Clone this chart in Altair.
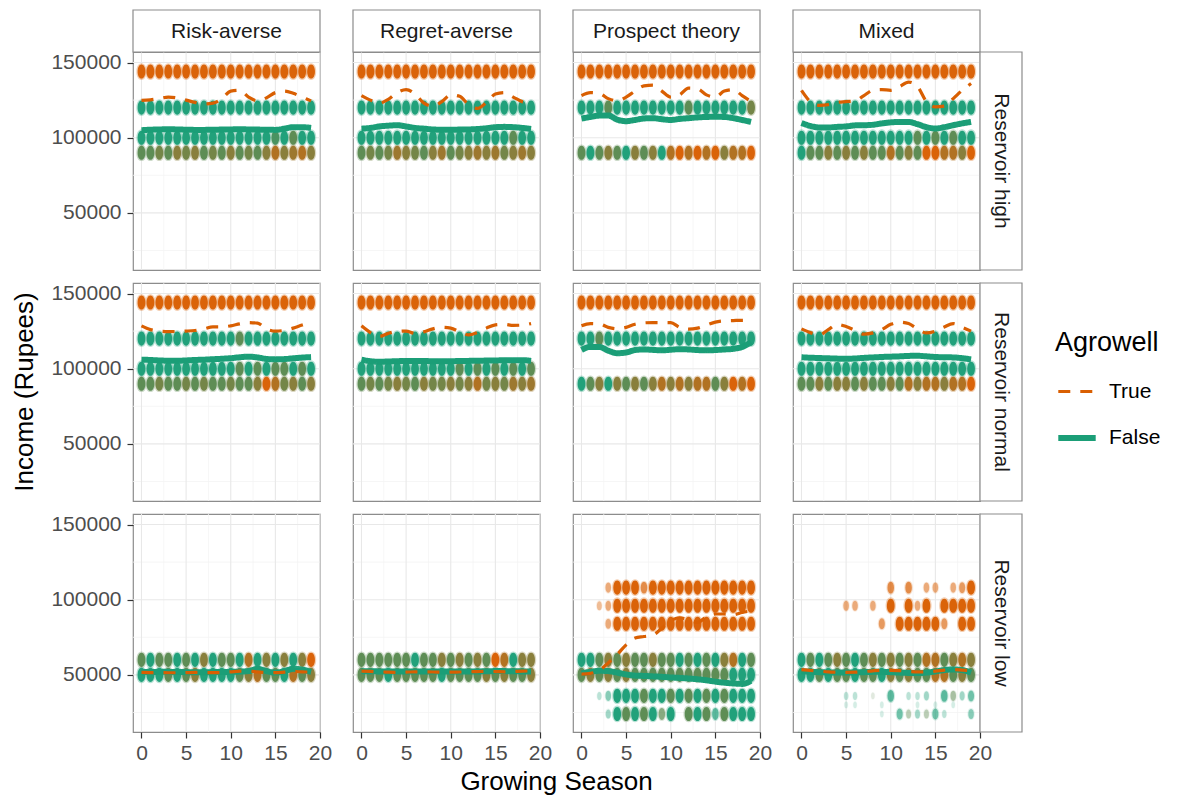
import altair as alt
import pandas as pd

FONT = "Liberation Sans"
ORANGE = "#D95F02"
GREEN = "#1B9E77"

POLICIES = ["Risk-averse", "Regret-averse", "Prospect theory", "Mixed"]
RESERVOIRS = ["Reservoir high", "Reservoir normal", "Reservoir low"]
SEASONS = list(range(20))
AGROWELL = ["True", "False"]
X_TICKS = [0, 5, 10, 15, 20]
X_MINOR = [2.5, 7.5, 12.5, 17.5]
Y_TICKS = [50000, 100000, 150000]
Y_MINOR = [25000, 75000, 125000]

# ---- smoothed mean income lines (season 0..19) ----
TRUE_RA_HIGH = [124800, 125200, 126000, 127000, 126500, 125000, 123500, 122500, 123000, 126000, 131000, 131500, 127000, 124500, 126500, 130000, 131000, 129500, 127000, 124500]
FALSE_RA_HIGH = [105000, 105300, 105500, 105600, 105500, 105300, 105200, 105200, 105300, 105400, 105500, 105600, 105500, 105400, 105300, 105200, 106000, 107000, 107000, 106500]
TRUE_RG_HIGH = [128000, 125000, 123000, 125500, 130000, 132000, 129000, 123000, 121000, 124000, 128500, 127500, 122000, 119500, 123500, 129000, 130000, 127000, 124000, 123000]
FALSE_RG_HIGH = [106000, 106500, 107500, 108000, 108300, 107500, 106500, 106000, 105500, 105300, 105300, 105400, 105500, 105800, 106300, 107000, 107200, 107000, 106500, 105800]
TRUE_PT_HIGH = [128000, 130000, 129500, 126000, 124500, 127000, 131000, 134500, 135000, 131000, 127000, 128500, 133000, 132500, 128500, 127000, 131000, 132000, 128000, 124000]
FALSE_PT_HIGH = [112700, 113800, 114700, 114800, 112000, 111000, 111800, 112800, 113000, 112300, 111800, 112500, 113000, 113500, 113800, 113900, 113800, 113000, 111800, 110500]
TRUE_MX_HIGH = [131500, 124000, 121500, 122000, 123500, 124000, 124500, 128000, 131500, 132000, 131500, 134000, 137000, 134000, 124000, 120500, 121000, 126000, 131500, 136000]
FALSE_MX_HIGH = [109800, 107800, 106800, 106800, 107200, 107500, 108200, 108300, 108600, 109500, 110200, 110500, 110500, 109000, 107000, 106100, 107000, 108300, 109500, 110500]

TRUE_RA_NORMAL = [128500, 126000, 125000, 124700, 124800, 125000, 125400, 126500, 127800, 127800, 128500, 129800, 130700, 130300, 126500, 125000, 125500, 127000, 129000, 130700]
FALSE_RA_NORMAL = [106000, 105800, 105500, 105300, 105300, 105500, 105800, 106000, 106300, 106600, 107000, 107600, 108000, 107500, 106500, 106200, 106400, 106900, 107400, 107700]
TRUE_RG_NORMAL = [128500, 124000, 121500, 123500, 124800, 125000, 123500, 124500, 126500, 127500, 127000, 124500, 122500, 124200, 127000, 129200, 129500, 128800, 129000, 130000]
FALSE_RG_NORMAL = [106000, 105000, 104600, 104800, 105000, 105200, 105200, 105100, 105000, 105000, 105000, 105100, 105200, 105300, 105400, 105500, 105600, 105700, 105700, 105200]
TRUE_PT_NORMAL = [128500, 130000, 129800, 127500, 126500, 127500, 129600, 130500, 130700, 130700, 130700, 127500, 126300, 127000, 129000, 131000, 131800, 132000, 132200, 132200]
FALSE_PT_NORMAL = [112500, 114500, 114500, 112000, 110300, 110800, 112400, 112800, 112500, 112200, 112600, 113000, 112800, 112400, 112200, 112400, 112800, 113200, 114500, 117500]
TRUE_MX_NORMAL = [126500, 124000, 122500, 126000, 129500, 128000, 125500, 123000, 123800, 126000, 129500, 131000, 130000, 126500, 123800, 125000, 127800, 130000, 127500, 125000]
FALSE_MX_NORMAL = [107600, 107300, 107100, 106900, 106700, 106600, 106800, 107200, 107500, 107800, 108000, 108200, 108500, 108600, 108200, 107800, 107600, 107500, 107000, 106200]

TRUE_RA_LOW = [51600, 51500, 51500, 51400, 51400, 51500, 51600, 51600, 51500, 51600, 52000, 52500, 52500, 52000, 51500, 51500, 51800, 52200, 52000, 51800]
FALSE_RA_LOW = [51800, 51900, 52000, 52000, 51900, 51800, 51700, 51700, 51800, 51900, 52000, 52200, 52500, 54000, 52500, 51500, 52500, 54000, 53500, 52000]
TRUE_RG_LOW = [52500, 52300, 52000, 51800, 51700, 51800, 52000, 52000, 51900, 51800, 51800, 51900, 52000, 52200, 52300, 52200, 52000, 52200, 52500, 52600]
FALSE_RG_LOW = [52500, 52400, 52300, 52200, 52200, 52200, 52300, 52300, 52300, 52200, 52200, 52200, 52300, 52300, 52400, 52500, 52500, 52400, 52300, 52200]
TRUE_PT_LOW = [50500, 51000, 53000, 58000, 63500, 70000, 74500, 75500, 76500, 81000, 86000, 88000, 86500, 85000, 88500, 90500, 90500, 90000, 91500, 92500]
FALSE_PT_LOW = [51000, 52000, 52700, 52500, 51500, 50300, 49500, 49300, 49000, 48700, 48300, 48000, 47600, 47100, 46400, 45500, 44800, 44300, 44000, 46000]
TRUE_MX_LOW = [53500, 53000, 52500, 52000, 51800, 51700, 51800, 52200, 52700, 53000, 53000, 52800, 52300, 52000, 52000, 52500, 53200, 53500, 53200, 52800]
FALSE_MX_LOW = [52500, 52000, 51800, 51600, 51500, 51500, 51600, 51800, 52000, 52000, 51800, 51500, 51300, 51200, 51500, 52300, 53200, 53600, 53200, 51500]

# ---- agent income levels: (income, share of Agrowell owners per season 0-9, presence 0-9 per season) ----
PTS_RA_HIGH = [(144000, "99999999999999999999", None), (120000, "00000000000000000000", None),
               (100000, "00000000000000020300", None), (90000, "33435453435343575675", None)]
PTS_RG_HIGH = [(144000, "99999999999999999999", None), (120000, "00000000000000000000", None),
               (100000, "00000000000000000300", None), (90000, "34346543563456564565", None)]
PTS_PT_HIGH = [(144000, "99999999999999999999", None), (120000, "00030000000030000004", None),
               (90000, "30353053507979795779", None)]
PTS_MX_HIGH = [(144000, "99999999999999999999", None), (120000, "00000000000000000000", None),
               (100000, "00000000000003030300", None), (90000, "03353535337353997759", None)]

PTS_RA_NORMAL = [(144000, "99999999999999999999", None), (120000, "00000000000300000000", None),
                 (100000, "00000000000303033030", None), (90000, "33433434334335974535", None)]
PTS_RG_NORMAL = [(144000, "99999999999999999999", None), (120000, "00000000000000000000", None),
                 (100000, "00000000000303030303", None), (90000, "34345435445457454656", None)]
PTS_PT_NORMAL = [(144000, "99999999999999999999", None), (120000, "00300000000000000000", None),
                 (90000, "03505353575757735979", None)]
PTS_MX_NORMAL = [(144000, "99999999999999999999", None), (120000, "00000000000000000000", None),
                 (100000, "00000000000000000000", None), (90000, "33535535335375775779", None)]

PTS_RA_LOW = [(60000, "30330305033070505059", None), (50000, "00030350000357330735", None)]
PTS_RG_LOW = [(60000, "33333303353535397055", None), (50000, "33303333303333535335", None)]
PTS_PT_LOW = [(108000, "...99999999999999999", "...49996999999999999"),
              (96000, "..999999999999999999", "..349999999999999999"),
              (84000, "...99999999999999999", "...49999999999999999"),
              (60000, "00353533533030305703", None),
              (50000, "35353533333333333000", None),
              (36000, "..000003003030303000", "..249999999999999999"),
              (24000, "...00303030.30303000", "...39999969.99969999")]
PTS_MX_LOW = [(108000, "..........9.9.99.999", "..........6.6.44.459"),
              (96000, ".....99.9.9.999.9999", ".....44.4.9.949.9999"),
              (84000, ".........9.999999.99", ".........5.999995.99"),
              (60000, "03035303535353773575", None),
              (50000, "00303303305353377353", None),
              (36000, ".....00.3.0.000.0300", ".....22.1.6.223.6435"),
              (30000, ".....00..0...0.0.0..", ".....11..1...1.1.1.."),
              (24000, ".........0.030300..0", ".........1.533352..4")]

TRUE_LINES = [[TRUE_RA_HIGH, TRUE_RG_HIGH, TRUE_PT_HIGH, TRUE_MX_HIGH],
              [TRUE_RA_NORMAL, TRUE_RG_NORMAL, TRUE_PT_NORMAL, TRUE_MX_NORMAL],
              [TRUE_RA_LOW, TRUE_RG_LOW, TRUE_PT_LOW, TRUE_MX_LOW]]
FALSE_LINES = [[FALSE_RA_HIGH, FALSE_RG_HIGH, FALSE_PT_HIGH, FALSE_MX_HIGH],
               [FALSE_RA_NORMAL, FALSE_RG_NORMAL, FALSE_PT_NORMAL, FALSE_MX_NORMAL],
               [FALSE_RA_LOW, FALSE_RG_LOW, FALSE_PT_LOW, FALSE_MX_LOW]]
POINT_LEVELS = [[PTS_RA_HIGH, PTS_RG_HIGH, PTS_PT_HIGH, PTS_MX_HIGH],
                [PTS_RA_NORMAL, PTS_RG_NORMAL, PTS_PT_NORMAL, PTS_MX_NORMAL],
                [PTS_RA_LOW, PTS_RG_LOW, PTS_PT_LOW, PTS_MX_LOW]]

# ---- build tables ----
line_rows, point_rows = [], []
for ri, res in enumerate(RESERVOIRS):
    for ci, pol in enumerate(POLICIES):
        for s in SEASONS:
            line_rows.append(dict(policy=pol, reservoir=res, season=s, income=TRUE_LINES[ri][ci][s], agrowell="True"))
            line_rows.append(dict(policy=pol, reservoir=res, season=s, income=FALSE_LINES[ri][ci][s], agrowell="False"))
        for income, shares, pres in POINT_LEVELS[ri][ci]:
            for s in SEASONS:
                if shares[s] == ".":
                    continue
                a = 1.0 if pres is None else int(pres[s]) / 9
                point_rows.append(dict(policy=pol, reservoir=res, season=s, income=income,
                                       share=int(shares[s]) / 9, alpha=a))
lines_df = pd.DataFrame(line_rows)
points_df = pd.DataFrame(point_rows)

W, H, STRIP = 187, 218, 42
GAP_COL, GAP_ROW = 33, 13
ELLIPSE = "M0,-1C0.73,-1 0.73,1 0,1C-0.73,1 -0.73,-1 0,-1Z"
HALO = "M0,-1.18C0.97,-1.18 0.97,1.18 0,1.18C-0.97,1.18 -0.97,-1.18 0,-1.18Z"

xscale = alt.Scale(domain=[-0.95, 20], nice=False, zero=False)
yscale = alt.Scale(domain=[12000, 157000], nice=False, zero=False)
fill_scale = alt.Scale(domain=[0, 1], range=[GREEN, ORANGE], interpolate="rgb")
size_scale = alt.Scale(domain=[0, 1], range=[25, 200])


def line_enc():
    return dict(
        stroke=alt.Stroke("agrowell:N", scale=alt.Scale(domain=AGROWELL, range=[ORANGE, GREEN]), title="Agrowell"),
        strokeDash=alt.StrokeDash("agrowell:N", scale=alt.Scale(domain=AGROWELL, range=[[12, 10], [1, 0]]), title="Agrowell"),
        strokeWidth=alt.StrokeWidth("agrowell:N", scale=alt.Scale(domain=AGROWELL, range=[3.2, 6]), title="Agrowell"),
    )


def panel(ri, ci):
    pol, res = POLICIES[ci], RESERVOIRS[ri]
    xaxis = alt.Axis(values=X_TICKS, title=None, format="d", labelFlush=False, tickSize=6,
                     labelPadding=4) if ri == 2 else None
    yaxis = alt.Axis(values=Y_TICKS, title=None, format="d", tickSize=6, labelPadding=6) if ci == 0 else None

    def X(f):
        return alt.X(f, type="quantitative", scale=xscale, axis=xaxis)

    def Y(f):
        return alt.Y(f, type="quantitative", scale=yscale, axis=yaxis)

    pts = points_df[(points_df.policy == pol) & (points_df.reservoir == res)]
    lns = lines_df[(lines_df.policy == pol) & (lines_df.reservoir == res)]

    layers = [
        alt.Chart(pd.DataFrame({"v": X_MINOR})).mark_rule(color="#f4f4f4", strokeWidth=0.8).encode(x=X("v")),
        alt.Chart(pd.DataFrame({"v": Y_MINOR})).mark_rule(color="#f4f4f4", strokeWidth=0.8).encode(y=Y("v")),
        alt.Chart(pd.DataFrame({"v": X_TICKS})).mark_rule(color="#e8e8e8", strokeWidth=1.1).encode(x=X("v")),
        alt.Chart(pd.DataFrame({"v": Y_TICKS})).mark_rule(color="#e8e8e8", strokeWidth=1.1).encode(y=Y("v")),
        alt.Chart(pts).mark_point(shape=HALO, filled=True, opacity=1, strokeWidth=0).encode(
            x=X("season"), y=Y("income"),
            fill=alt.Fill("share:Q", scale=fill_scale, legend=None),
            fillOpacity=alt.FillOpacity("alpha:Q", scale=alt.Scale(domain=[0, 1], range=[0, 0.3]), legend=None),
            size=alt.Size("alpha:Q", scale=size_scale, legend=None)),
        alt.Chart(pts).mark_point(shape=ELLIPSE, filled=True, strokeWidth=0).encode(
            x=X("season"), y=Y("income"),
            fill=alt.Fill("share:Q", scale=fill_scale, legend=None),
            opacity=alt.Opacity("alpha:Q", scale=alt.Scale(domain=[0, 1], range=[0.05, 0.96]), legend=None),
            size=alt.Size("alpha:Q", scale=size_scale, legend=None)),
        alt.Chart(lns[lns.agrowell == "False"]).mark_line(interpolate="monotone", strokeCap="butt").encode(
            x=X("season"), y=Y("income"), **line_enc()),
        alt.Chart(lns[lns.agrowell == "True"]).mark_line(interpolate="monotone", strokeCap="butt").encode(
            x=X("season"), y=Y("income"), **line_enc()),
    ]

    if ri == 0:
        sd = pd.DataFrame({"label": [pol]})
        layers.append(alt.Chart(sd).mark_rect(fill="white", stroke="#8c8c8c", strokeWidth=1.2).encode(
            x=alt.value(0), x2=alt.value(W), y=alt.value(-STRIP), y2=alt.value(0)))
        layers.append(alt.Chart(sd).mark_text(font=FONT, fontSize=21, color="#1a1a1a", align="center",
                                              baseline="middle").encode(
            x=alt.value(W / 2), y=alt.value(-STRIP / 2 + 1), text="label:N"))
    if ci == 3:
        sd = pd.DataFrame({"label": [res]})
        layers.append(alt.Chart(sd).mark_rect(fill="white", stroke="#8c8c8c", strokeWidth=1.2).encode(
            x=alt.value(W), x2=alt.value(W + STRIP), y=alt.value(0), y2=alt.value(H)))
        layers.append(alt.Chart(sd).mark_text(font=FONT, fontSize=21, color="#1a1a1a", align="center",
                                              baseline="middle", angle=90).encode(
            x=alt.value(W + STRIP / 2), y=alt.value(H / 2), text="label:N"))
    if ri == 1 and ci == 0:
        td = pd.DataFrame({"t": ["Income (Rupees)"]})
        layers.append(alt.Chart(td).mark_text(font=FONT, fontSize=26, color="black", align="center",
                                              baseline="middle", angle=270).encode(
            x=alt.value(-108), y=alt.value(H / 2), text="t:N"))
    if ri == 2 and ci == 1:
        td = pd.DataFrame({"t": ["Growing Season"]})
        layers.append(alt.Chart(td).mark_text(font=FONT, fontSize=26, color="black", align="center",
                                              baseline="middle").encode(
            x=alt.value(W + GAP_COL / 2), y=alt.value(H + 50), text="t:N"))

    return alt.layer(*layers).properties(width=W, height=H)


charts = [panel(r, c) for r in range(3) for c in range(4)]
chart = alt.concat(*charts, columns=4, spacing={"row": GAP_ROW, "column": GAP_COL}, bounds="flush")
chart = chart.resolve_scale(stroke="shared", strokeDash="shared", strokeWidth="shared", fill="shared")
chart = chart.properties(padding={"left": 3, "top": 0, "right": 0, "bottom": 0}, background="white").configure_view(
    stroke="#8c8c8c", strokeWidth=1.2
).configure_axis(
    labelFont=FONT, labelFontSize=21, labelColor="#4d4d4d", tickColor="#333333", tickWidth=1.2,
    domain=False, grid=False, labelOverlap=False
).configure_legend(
    orient="none", legendX=922, legendY=278, titleFont=FONT, titleFontSize=27, titleFontWeight="normal",
    titleColor="black", labelFont=FONT, labelFontSize=21, labelColor="black", symbolSize=1400,
    rowPadding=14, titlePadding=14, labelOffset=10
)

chart.save("out.html", embed_options={"renderer": "svg", "actions": False})
